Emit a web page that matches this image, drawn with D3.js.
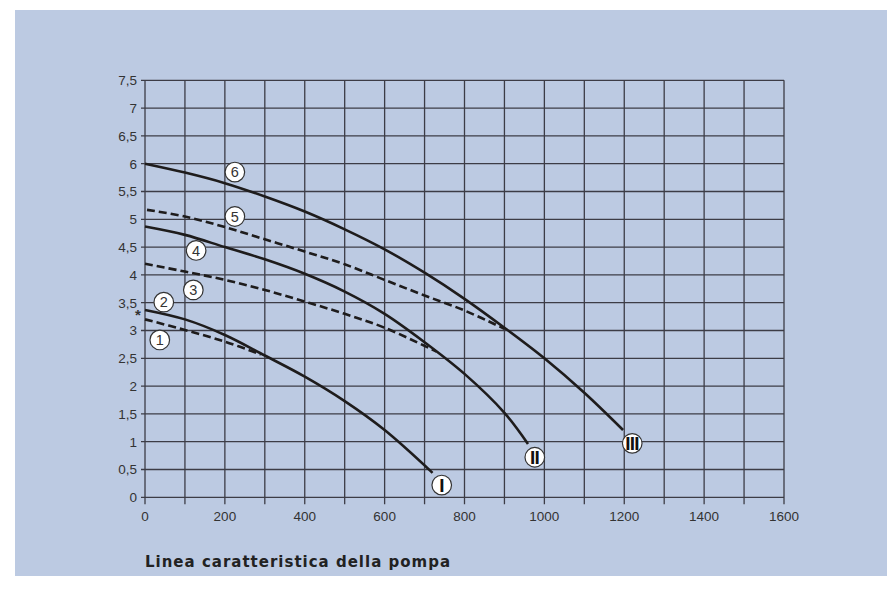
<!DOCTYPE html>
<html>
<head>
<meta charset="utf-8">
<script src="https://cdn.jsdelivr.net/npm/d3@7"></script>
<style>
  body { margin: 0; background: #fff; }
  svg { display: block; }
</style>
</head>
<body>
<div id="chart"></div>
<script>
// pump curves: flow (l/h) vs head (m)
const curve1 = [[0, 3.2], [100, 3.01], [200, 2.8], [290, 2.57]];
const curve2 = [[0, 3.37], [100, 3.2], [200, 2.92], [300, 2.55], [400, 2.17], [500, 1.73], [600, 1.21], [720, 0.44]];
const curve3 = [[0, 4.2], [100, 4.06], [200, 3.91], [300, 3.73], [400, 3.52], [500, 3.3], [600, 3.05], [730, 2.62]];
const curve4 = [[0, 4.87], [100, 4.72], [200, 4.5], [300, 4.28], [400, 4.02], [500, 3.7], [600, 3.3], [700, 2.79], [800, 2.22], [900, 1.52], [959, 0.96]];
const curve5 = [[5, 5.17], [100, 5.05], [200, 4.86], [300, 4.64], [400, 4.42], [500, 4.19], [600, 3.91], [700, 3.63], [800, 3.36], [900, 3.03]];
const curve6 = [[0, 6.0], [100, 5.84], [200, 5.65], [300, 5.41], [400, 5.14], [500, 4.82], [600, 4.46], [700, 4.04], [800, 3.57], [900, 3.05], [1000, 2.5], [1100, 1.88], [1197, 1.21]];

const curves = [
  { id: 1, pts: curve1, dashed: true },
  { id: 2, pts: curve2, dashed: false },
  { id: 3, pts: curve3, dashed: true },
  { id: 4, pts: curve4, dashed: false },
  { id: 5, pts: curve5, dashed: true },
  { id: 6, pts: curve6, dashed: false }
];

// numbered markers and pump speed markers (data coords)
const numLabels = [["1", 37, 2.83], ["2", 47, 3.51], ["3", 121, 3.73], ["4", 128, 4.44], ["5", 225, 5.05], ["6", 225, 5.85]];
const speedLabels = [["I", 743, 0.22], ["II", 976, 0.72], ["III", 1220, 0.97]];

const xTicks = d3.range(0, 1601, 200);
const yTicks = d3.range(0, 7.51, 0.5);
const title = "Linea caratteristica della pompa";

const W = 887, H = 601;
const svg = d3.select("#chart").append("svg")
  .attr("width", W)
  .attr("height", H);

svg.append("rect")
  .attr("x", 15).attr("y", 10)
  .attr("width", W - 15).attr("height", 566)
  .attr("fill", "#bccae2");

const x = d3.scaleLinear().domain([0, 1600]).range([145, 784]);
const y = d3.scaleLinear().domain([0, 7.5]).range([497.3, 80.3]);

const grid = svg.append("g")
  .attr("stroke", "#3c3c46")
  .attr("stroke-width", 1.3);

grid.selectAll(".v")
  .data(d3.range(0, 1601, 100))
  .join("line")
  .attr("x1", d => x(d)).attr("x2", d => x(d))
  .attr("y1", y(7.5)).attr("y2", y(0) + 7);

grid.selectAll(".h")
  .data(yTicks)
  .join("line")
  .attr("y1", d => y(d)).attr("y2", d => y(d))
  .attr("x1", x(0) - 4).attr("x2", x(1600));

const fmt = d => String(d).replace(".", ",");

svg.append("g")
  .selectAll("text")
  .data(xTicks)
  .join("text")
  .attr("x", d => x(d))
  .attr("y", 520.5)
  .attr("text-anchor", "middle")
  .style("font-family", "Liberation Sans, Arial, sans-serif")
  .style("font-size", "13.5px")
  .attr("fill", "#333")
  .text(d => d);

svg.append("g")
  .selectAll("text")
  .data(yTicks)
  .join("text")
  .attr("x", 137)
  .attr("y", d => y(d))
  .attr("dy", "0.36em")
  .attr("text-anchor", "end")
  .style("font-family", "Liberation Sans, Arial, sans-serif")
  .style("font-size", "13.5px")
  .attr("fill", "#333")
  .text(fmt);

const line = d3.line()
  .x(d => x(d[0]))
  .y(d => y(d[1]))
  .curve(d3.curveCatmullRom.alpha(0.5));

svg.append("g")
  .selectAll("path")
  .data(curves)
  .join("path")
  .attr("d", d => line(d.pts))
  .attr("fill", "none")
  .attr("stroke", "#1e1c1c")
  .attr("stroke-width", 2.6)
  .attr("stroke-dasharray", d => d.dashed ? "8,4" : null);

// asterisk near origin of curve 2
svg.append("text")
  .attr("x", 138)
  .attr("y", 320)
  .attr("text-anchor", "middle")
  .style("font-family", "Liberation Sans, Arial, sans-serif")
  .style("font-size", "15px")
  .style("font-weight", "bold")
  .attr("fill", "#333")
  .text("*");

const nums = svg.append("g")
  .selectAll("g")
  .data(numLabels)
  .join("g")
  .attr("transform", d => `translate(${x(d[1])},${y(d[2])})`);

nums.append("circle")
  .attr("r", 9.8)
  .attr("fill", "#fff")
  .attr("stroke", "#333")
  .attr("stroke-width", 1.2);

nums.append("text")
  .attr("text-anchor", "middle")
  .attr("dy", "0.36em")
  .style("font-family", "Liberation Sans, Arial, sans-serif")
  .style("font-size", "14.5px")
  .attr("fill", "#333")
  .text(d => d[0]);

const speeds = svg.append("g")
  .selectAll("g")
  .data(speedLabels)
  .join("g")
  .attr("transform", d => `translate(${x(d[1])},${y(d[2])})`);

speeds.append("circle")
  .attr("r", 9.8)
  .attr("fill", "#fff")
  .attr("stroke", "#333")
  .attr("stroke-width", 1.2);

speeds.append("text")
  .attr("text-anchor", "middle")
  .attr("dy", "0.37em")
  .attr("dx", "-0.3")
  .style("font-family", "Liberation Sans, Arial, sans-serif")
  .style("font-size", "19px")
  .style("font-weight", "bold")
  .style("letter-spacing", "-0.8px")
  .attr("fill", "#111")
  .text(d => d[0]);

svg.append("text")
  .attr("x", 145)
  .attr("y", 567)
  .attr("textLength", 305)
  .attr("lengthAdjust", "spacing")
  .style("font-family", "DejaVu Sans, sans-serif")
  .style("font-size", "15px")
  .style("font-weight", "bold")
  .attr("fill", "#222")
  .text(title);
</script>
</body>
</html>
